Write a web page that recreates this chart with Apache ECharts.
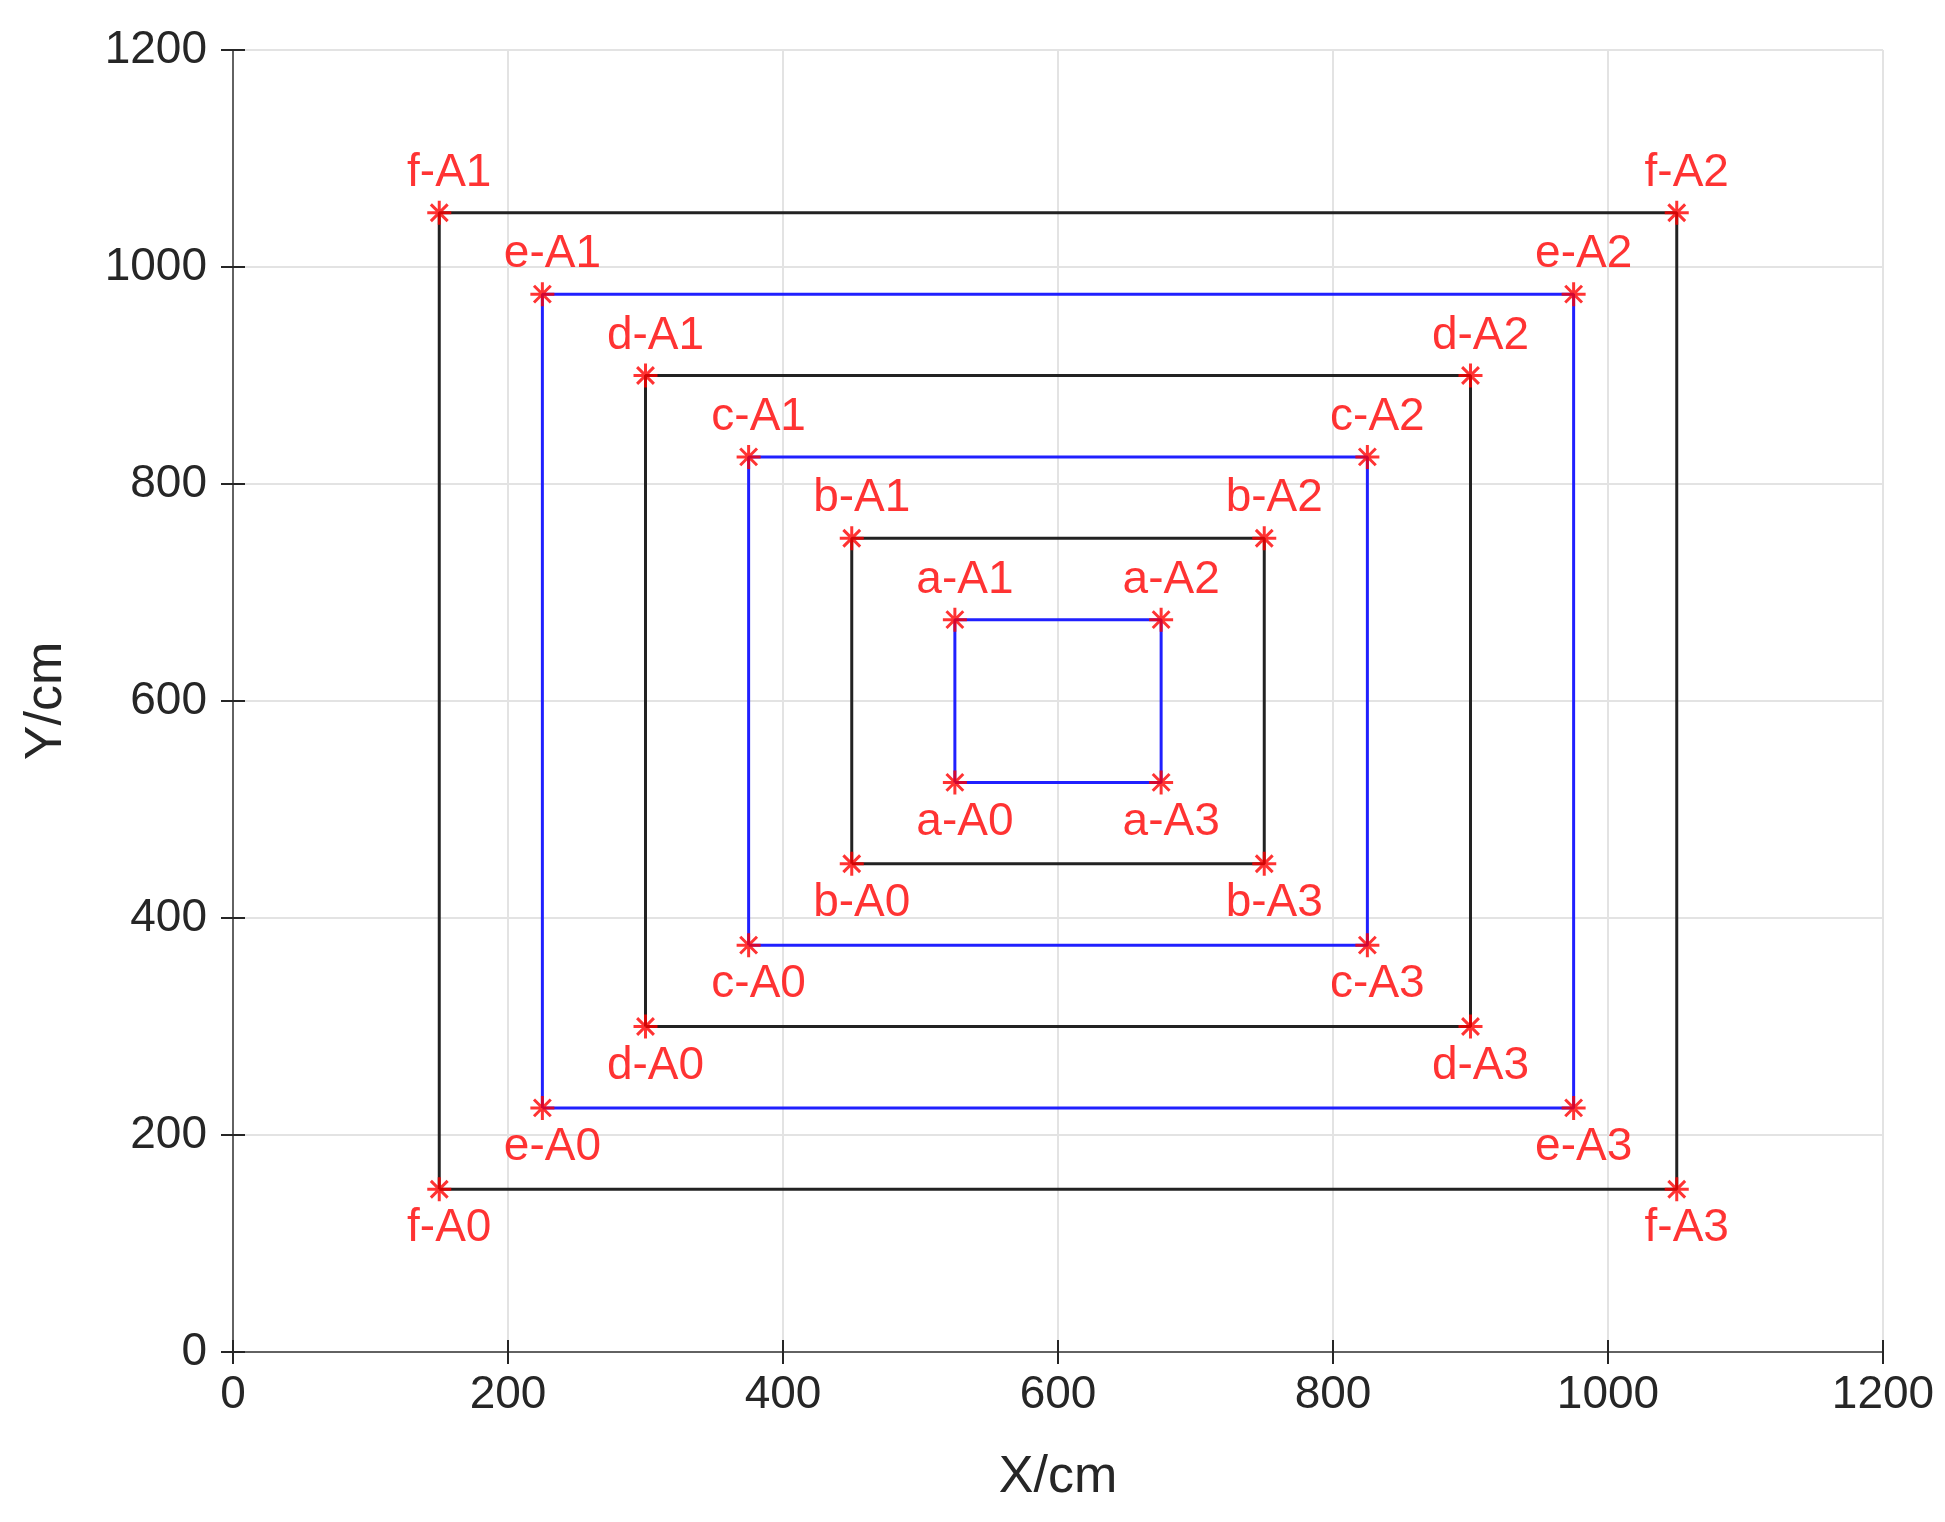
<!DOCTYPE html>
<html>
<head>
<meta charset="utf-8">
<script src="https://cdn.jsdelivr.net/npm/echarts@6/dist/echarts.min.js"></script>
<style>html,body{margin:0;background:#fff}#chart{width:1945px;height:1522px}</style>
</head>
<body>
<div id="chart"></div>
<script>
// squares: name, left x, right x, bottom y, top y, line colour
const squareNames = ['a', 'b', 'c', 'd', 'e', 'f'];
const squareLeft = [525, 450, 375, 300, 225, 150];
const squareRight = [675, 750, 825, 900, 975, 1050];
const squareBottom = [525, 450, 375, 300, 225, 150];
const squareTop = [675, 750, 825, 900, 975, 1050];
const squareColors = ['#2020ff', '#222222', '#2020ff', '#222222', '#2020ff', '#222222'];

const font = 'Liberation Sans, Arial';
const star = 'path://M0 -10 L0 10 M-10 0 L10 0 M-7 -7 L7 7 M-7 7 L7 -7';
const series = [];
const points = [];

squareNames.forEach((n, i) => {
    const l = squareLeft[i], r = squareRight[i], b = squareBottom[i], t = squareTop[i];
    series.push({
        type: 'line',
        data: [[l, b], [l, t], [r, t], [r, b], [l, b]],
        symbol: 'none',
        lineStyle: { color: squareColors[i], width: 3 },
        z: 2
    });
    const corners = [[l, b, 'A0', 'bottom'], [l, t, 'A1', 'top'], [r, t, 'A2', 'top'], [r, b, 'A3', 'bottom']];
    corners.forEach(c => {
        points.push({
            value: [c[0], c[1]],
            name: n + '-' + c[2],
            label: { position: c[3] }
        });
    });
});

series.push({
    type: 'scatter',
    data: points,
    symbol: star,
    symbolSize: 24,
    itemStyle: { color: 'none', borderColor: '#ff0000', borderWidth: 3 },
    label: {
        show: true,
        formatter: p => p.name,
        color: '#ff0000',
        fontSize: 46,
        fontFamily: font,
        distance: 2,
        offset: [10, 0]
    },
    z: 5
});

const chart = echarts.init(document.getElementById('chart'));
const axisCommon = {
    type: 'value', min: 0, max: 1200, interval: 200,
    axisLine: { show: true, lineStyle: { color: '#262626', width: 2 } },
    axisTick: { show: true, inside: true, length: 12, lineStyle: { color: '#262626', width: 2 } },
    splitLine: { show: false }
};
const tickLabel = { fontSize: 46, color: '#262626', fontFamily: font, formatter: v => String(v) };
chart.setOption({
    backgroundColor: '#fff',
    animation: false,
    grid: { left: 233, right: 62, top: 50, bottom: 170 },
    xAxis: [
        Object.assign({}, axisCommon, {
            position: 'bottom',
            name: 'X/cm', nameLocation: 'middle', nameGap: 100,
            nameTextStyle: { fontSize: 52, color: '#262626', fontFamily: font },
            axisLabel: Object.assign({ margin: 20 }, tickLabel),
            splitLine: { show: true, lineStyle: { color: '#e3e3e3', width: 2 } }
        }),
        Object.assign({}, axisCommon, { position: 'top', axisLabel: { show: false },
            axisLine: { show: true, lineStyle: { color: '#777', width: 1.5 } } })
    ],
    yAxis: [
        Object.assign({}, axisCommon, {
            position: 'left',
            name: 'Y/cm', nameLocation: 'middle', nameGap: 160,
            nameTextStyle: { fontSize: 52, color: '#262626', fontFamily: font },
            axisLabel: Object.assign({ margin: 26 }, tickLabel),
            splitLine: { show: true, lineStyle: { color: '#e3e3e3', width: 2 } }
        }),
        Object.assign({}, axisCommon, { position: 'right', axisLabel: { show: false },
            axisLine: { show: true, lineStyle: { color: '#777', width: 1.5 } } })
    ],
    series: series
});
</script>
</body>
</html>
